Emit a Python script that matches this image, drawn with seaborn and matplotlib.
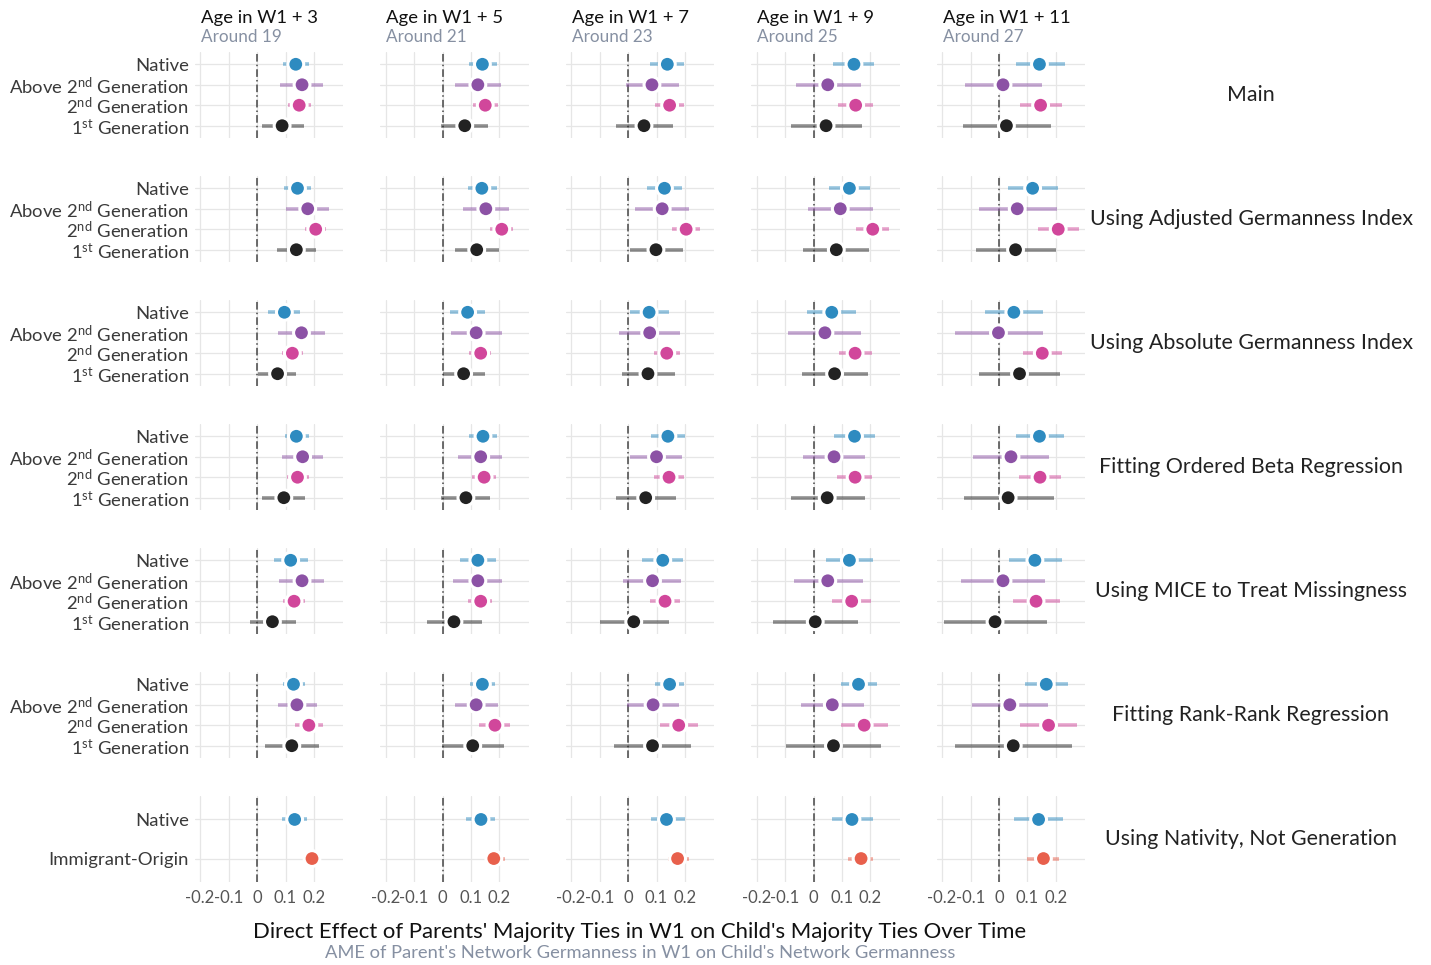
import numpy as np
import pandas as pd
import matplotlib
matplotlib.use("Agg")
import matplotlib.pyplot as plt
import seaborn as sns

# ---- labels -------------------------------------------------------------
waves = ["Age in W1 + 3", "Age in W1 + 5", "Age in W1 + 7", "Age in W1 + 9", "Age in W1 + 11"]
around = ["Around 19", "Around 21", "Around 23", "Around 25", "Around 27"]
specs = ["Main", "Using Adjusted Germanness Index", "Using Absolute Germanness Index",
         "Fitting Ordered Beta Regression", "Using MICE to Treat Missingness",
         "Fitting Rank-Rank Regression", "Using Nativity, Not Generation"]
generations = ["Native", "Above 2nd Generation", "2nd Generation", "1st Generation"]
generation_labels = ["Native", r"Above 2$^{\mathrm{nd}}$ Generation",
                     r"2$^{\mathrm{nd}}$ Generation", r"1$^{\mathrm{st}}$ Generation"]
nativity = ["Native", "Immigrant-Origin"]
nativity_labels = ["Native", "Immigrant-Origin"]
x_ticks = [-0.2, -0.1, 0.0, 0.1, 0.2]
x_ticklabels = ["-0.2", "-0.1", "0", "0.1", "0.2"]

# ---- estimates (rows: groups, columns: waves) ---------------------------
main_est = [[0.136, 0.140, 0.138, 0.142, 0.142],
            [0.158, 0.124, 0.084, 0.050, 0.014],
            [0.148, 0.150, 0.146, 0.148, 0.146],
            [0.088, 0.078, 0.056, 0.044, 0.026]]
main_lo = [[0.090, 0.092, 0.078, 0.070, 0.058],
           [0.082, 0.044, -0.008, -0.060, -0.118],
           [0.108, 0.106, 0.094, 0.086, 0.072],
           [0.016, -0.004, -0.044, -0.080, -0.128]]
main_hi = [[0.182, 0.190, 0.198, 0.214, 0.230],
           [0.232, 0.204, 0.178, 0.166, 0.150],
           [0.188, 0.194, 0.198, 0.210, 0.222],
           [0.164, 0.158, 0.158, 0.170, 0.182]]

adjusted_est = [[0.142, 0.138, 0.128, 0.126, 0.118],
                [0.178, 0.152, 0.120, 0.094, 0.064],
                [0.206, 0.208, 0.204, 0.208, 0.208],
                [0.138, 0.120, 0.098, 0.080, 0.058]]
adjusted_lo = [[0.096, 0.088, 0.068, 0.054, 0.032],
               [0.102, 0.072, 0.026, -0.020, -0.072],
               [0.168, 0.168, 0.156, 0.150, 0.136],
               [0.070, 0.044, 0.006, -0.036, -0.080]]
adjusted_hi = [[0.190, 0.190, 0.190, 0.200, 0.206],
               [0.254, 0.234, 0.214, 0.210, 0.202],
               [0.242, 0.248, 0.254, 0.266, 0.280],
               [0.208, 0.200, 0.194, 0.196, 0.200]]

absolute_est = [[0.096, 0.088, 0.074, 0.064, 0.052],
                [0.156, 0.118, 0.076, 0.040, -0.002],
                [0.124, 0.134, 0.136, 0.146, 0.152],
                [0.072, 0.074, 0.070, 0.074, 0.072]]
absolute_lo = [[0.040, 0.026, 0.006, -0.022, -0.050],
               [0.072, 0.030, -0.032, -0.090, -0.156],
               [0.086, 0.094, 0.092, 0.088, 0.084],
               [0.004, 0.000, -0.022, -0.042, -0.070]]
absolute_hi = [[0.150, 0.148, 0.144, 0.150, 0.154],
               [0.238, 0.208, 0.182, 0.168, 0.154],
               [0.160, 0.170, 0.184, 0.204, 0.222],
               [0.138, 0.150, 0.166, 0.190, 0.214]]

betareg_est = [[0.138, 0.142, 0.140, 0.144, 0.142],
               [0.160, 0.134, 0.100, 0.072, 0.042],
               [0.142, 0.146, 0.144, 0.146, 0.144],
               [0.094, 0.082, 0.062, 0.048, 0.032]]
betareg_lo = [[0.098, 0.094, 0.082, 0.072, 0.060],
              [0.088, 0.054, 0.008, -0.038, -0.090],
              [0.104, 0.104, 0.092, 0.084, 0.070],
              [0.018, -0.004, -0.044, -0.080, -0.124]]
betareg_hi = [[0.184, 0.192, 0.200, 0.216, 0.228],
              [0.232, 0.210, 0.190, 0.180, 0.174],
              [0.182, 0.188, 0.196, 0.206, 0.218],
              [0.170, 0.166, 0.170, 0.180, 0.192]]

mice_est = [[0.118, 0.124, 0.122, 0.126, 0.126],
            [0.158, 0.124, 0.086, 0.050, 0.014],
            [0.130, 0.134, 0.130, 0.134, 0.130],
            [0.054, 0.040, 0.020, 0.006, -0.014]]
mice_lo = [[0.058, 0.062, 0.050, 0.044, 0.034],
           [0.078, 0.038, -0.016, -0.070, -0.132],
           [0.092, 0.090, 0.076, 0.066, 0.050],
           [-0.024, -0.056, -0.100, -0.144, -0.194]]
mice_hi = [[0.180, 0.186, 0.192, 0.208, 0.220],
           [0.234, 0.210, 0.186, 0.174, 0.162],
           [0.168, 0.174, 0.184, 0.202, 0.214],
           [0.136, 0.138, 0.144, 0.156, 0.170]]

rankrank_est = [[0.128, 0.140, 0.146, 0.158, 0.166],
                [0.140, 0.118, 0.088, 0.066, 0.038],
                [0.182, 0.184, 0.178, 0.178, 0.174],
                [0.122, 0.106, 0.086, 0.070, 0.050]]
rankrank_lo = [[0.092, 0.098, 0.096, 0.096, 0.090],
               [0.072, 0.042, -0.002, -0.044, -0.096],
               [0.134, 0.128, 0.112, 0.096, 0.074],
               [0.028, -0.002, -0.050, -0.098, -0.154]]
rankrank_hi = [[0.168, 0.184, 0.198, 0.222, 0.244],
               [0.212, 0.196, 0.180, 0.176, 0.172],
               [0.230, 0.238, 0.244, 0.260, 0.274],
               [0.218, 0.216, 0.222, 0.238, 0.256]]

nativity_est = [[0.132, 0.135, 0.135, 0.135, 0.139],
                [0.193, 0.180, 0.174, 0.167, 0.156]]
nativity_lo = [[0.086, 0.083, 0.080, 0.066, 0.052],
               [0.163, 0.153, 0.139, 0.120, 0.100]]
nativity_hi = [[0.177, 0.184, 0.200, 0.210, 0.226],
               [0.225, 0.219, 0.215, 0.210, 0.210]]

spec_tables = [
    (main_est, main_lo, main_hi, generations),
    (adjusted_est, adjusted_lo, adjusted_hi, generations),
    (absolute_est, absolute_lo, absolute_hi, generations),
    (betareg_est, betareg_lo, betareg_hi, generations),
    (mice_est, mice_lo, mice_hi, generations),
    (rankrank_est, rankrank_lo, rankrank_hi, generations),
    (nativity_est, nativity_lo, nativity_hi, nativity),
]

palette = {
    "Native": "#2E8BC0",
    "Above 2nd Generation": "#8C52A5",
    "2nd Generation": "#D1479B",
    "1st Generation": "#222222",
    "Immigrant-Origin": "#E8604C",
}

# ---- long table ---------------------------------------------------------
records = []
for s, (est, lo, hi, groups) in enumerate(spec_tables):
    n = len(groups)
    for g, grp in enumerate(groups):
        for w in range(len(waves)):
            records.append(dict(spec=specs[s], wave=waves[w], group=grp,
                                pos=n - g, est=est[g][w], lo=lo[g][w], hi=hi[g][w]))
df = pd.DataFrame(records)

# ---- style --------------------------------------------------------------
sns.set_theme(style="whitegrid")
plt.rcParams["font.family"] = ["Lato", "DejaVu Sans"]
plt.rcParams["mathtext.fontset"] = "custom"
plt.rcParams["mathtext.rm"] = "Lato"
plt.rcParams["mathtext.it"] = "Lato:italic"
plt.rcParams["mathtext.bf"] = "Lato:bold"

text_grey = "#8690A2"
grid_col = "#E6E6E6"

fig, axes = plt.subplots(len(specs), len(waves), figsize=(14.31, 9.65), dpi=100)
fig.subplots_adjust(left=195 / 1431, right=1085 / 1431, top=1 - 52 / 965,
                    bottom=1 - 882 / 965, wspace=0.253, hspace=0.442)

for r, spec in enumerate(specs):
    groups = spec_tables[r][3]
    n = len(groups)
    tick_labels = generation_labels if n == 4 else nativity_labels
    for c, wave in enumerate(waves):
        ax = axes[r, c]
        sub = df[(df.spec == spec) & (df.wave == wave)]
        ax.axvline(0, color="#454545", lw=1.1, ls=(0, (5, 2, 1, 2)), zorder=1.5)
        for _, row in sub.iterrows():
            ax.hlines(row.pos, row.lo, row.hi, colors=palette[row.group],
                      alpha=0.5, lw=2.6, zorder=2)
        sns.scatterplot(data=sub, x="est", y="pos", hue="group", palette=palette,
                        s=130, edgecolor="white", linewidth=2.2, legend=False,
                        ax=ax, zorder=3)
        ax.set_xlim(-0.218, 0.302)
        ax.set_ylim(0.4, n + 0.6)
        ax.set_xticks(x_ticks)
        ax.set_yticks(list(range(n, 0, -1)))
        ax.grid(True, color=grid_col, lw=0.9)
        ax.set_axisbelow(True)
        for sp in ax.spines.values():
            sp.set_visible(False)
        ax.tick_params(length=0, pad=4.5)
        ax.set_xlabel("")
        ax.set_ylabel("")
        if c == 0:
            ax.set_yticklabels(tick_labels, fontsize=13.3, color="#3a3a3a")
        else:
            ax.set_yticklabels([])
        if r == len(specs) - 1:
            ax.set_xticklabels(x_ticklabels, fontsize=12, color="#555555")
            ax.tick_params(axis="x", pad=6)
        else:
            ax.set_xticklabels([])
        if r == 0:
            ax.annotate(wave, xy=(0, 1), xycoords="axes fraction",
                        xytext=(4, 21), textcoords="offset points",
                        ha="left", va="baseline", fontsize=13.3, color="#111111")
            ax.annotate(around[c], xy=(0, 1), xycoords="axes fraction",
                        xytext=(4, 7.5), textcoords="offset points",
                        ha="left", va="baseline", fontsize=12.3, color=text_grey)
    # facet label on the right
    bb = axes[r, -1].get_position()
    fig.text(1251 / 1431, (bb.y0 + bb.y1) / 2, spec, ha="center", va="center",
             fontsize=15.4, color="#222222")

fig.text(640 / 1431, 1 - 932 / 965, "Direct Effect of Parents' Majority Ties in W1 on Child's Majority Ties Over Time",
         ha="center", va="center", fontsize=15.9, color="#111111")
fig.text(640 / 1431, 1 - 953 / 965, "AME of Parent's Network Germanness in W1 on Child's Network Germanness",
         ha="center", va="center", fontsize=13.2, color=text_grey)

fig.savefig("out.png", dpi=100)
